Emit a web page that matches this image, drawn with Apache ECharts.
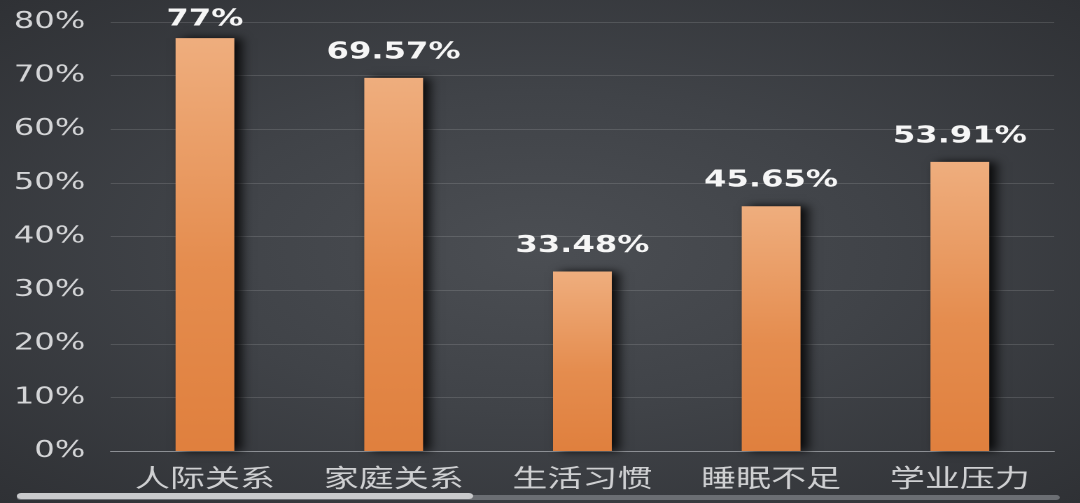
<!DOCTYPE html>
<html>
<head>
<meta charset="utf-8">
<script src="https://cdn.jsdelivr.net/npm/echarts@6/dist/echarts.min.js"></script>
<style>
  html, body { margin: 0; padding: 0; width: 1080px; height: 503px; overflow: hidden;
    background: radial-gradient(ellipse at 50% 50%, #4b4e53 0%, #404348 45%, #2f3135 100%); }
  #chart { width: 771px; height: 503px; transform: scaleX(1.4); transform-origin: 0 0; }
</style>
</head>
<body>
<div id="chart"></div>
<script>
const categories = ['人际关系', '家庭关系', '生活习惯', '睡眠不足', '学业压力'];
const values = [77, 69.57, 33.48, 45.65, 53.91];
const valueLabels = ['77%', '69.57%', '33.48%', '45.65%', '53.91%'];
const yTicks = [0, 10, 20, 30, 40, 50, 60, 70, 80];

const chart = echarts.init(document.getElementById('chart'), null, { devicePixelRatio: 2 });
chart.setOption({
  backgroundColor: 'transparent',
  animation: false,
  grid: { left: 79, right: 18, top: 22, bottom: 52 },
  xAxis: {
    type: 'category',
    data: categories,
    axisLine: { lineStyle: { color: '#8c8f94', width: 1 } },
    axisTick: { show: false },
    axisLabel: { color: '#cfd0d2', fontSize: 25, fontFamily: 'Noto Sans CJK SC', margin: 14 }
  },
  yAxis: {
    type: 'value',
    min: yTicks[0],
    max: yTicks[yTicks.length - 1],
    interval: 10,
    axisLine: { show: false },
    axisTick: { show: false },
    splitLine: { lineStyle: { color: 'rgba(255,255,255,0.13)', width: 1 } },
    axisLabel: { color: '#d4d5d7', fontSize: 23, fontFamily: 'DejaVu Sans', margin: 18,
      formatter: v => v + '%' }
  },
  series: [{
    type: 'bar',
    data: values.map((v, i) => i === 0 ? { value: v, label: { distance: 7 } } : v),
    barWidth: 42,
    itemStyle: {
      color: new echarts.graphic.LinearGradient(0, 0, 0, 1, [
        { offset: 0, color: '#efae7e' },
        { offset: 0.55, color: '#e58d4f' },
        { offset: 1, color: '#e0803e' }
      ]),
      shadowColor: 'rgba(0,0,0,0.85)',
      shadowBlur: 8,
      shadowOffsetX: 5,
      shadowOffsetY: 0
    },
    label: {
      show: true,
      position: 'top',
      distance: 14,
      color: '#f6f6f6',
      fontSize: 23,
      fontWeight: 'bold',
      fontFamily: 'DejaVu Sans',
      formatter: p => valueLabels[p.dataIndex]
    }
  }],
  graphic: [
    { type: 'rect', left: 12, top: 495, shape: { width: 745, height: 5, r: 2.5 },
      style: { fill: '#6b6e73' }, silent: true },
    { type: 'rect', left: 12, top: 493, shape: { width: 326, height: 6, r: 3 },
      style: { fill: '#c9cacc' }, silent: true }
  ]
});
</script>
</body>
</html>
